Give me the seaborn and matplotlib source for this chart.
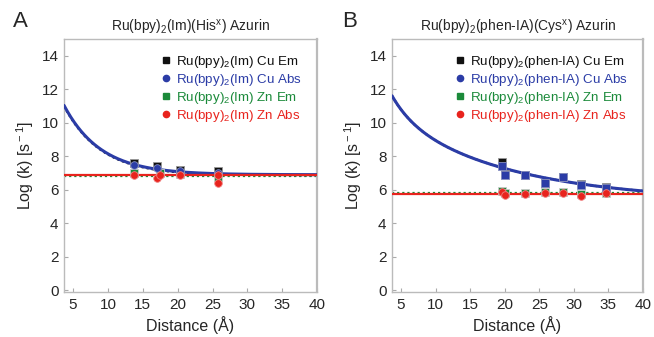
import numpy as np
import pandas as pd
import seaborn as sns
import matplotlib.pyplot as plt
from matplotlib.lines import Line2D

# ---- panel A : Ru(bpy)2(Im)(His) azurin ----
a_cu_em_r = [13.7, 17.1, 20.4, 25.8]
a_cu_em_k = [7.6, 7.45, 7.2, 7.1]
a_cu_abs_r = [13.7, 17.1, 20.4, 25.8]
a_cu_abs_k = [7.5, 7.32, 7.1, 7.0]
a_zn_em_r = [13.7, 17.5, 20.4, 25.8]
a_zn_em_k = [7.02, 7.0, 6.92, 6.76]
a_zn_abs_r = [13.7, 17.1, 17.5, 20.4, 25.8, 25.8]
a_zn_abs_k = [6.86, 6.72, 6.9, 6.86, 6.9, 6.42]

# fit: log k = plateau + amp * exp(-decay * r)
a_fit_plateau, a_fit_amp, a_fit_decay = 6.9, 8.36, 0.19
a_em_plateau = 6.86
a_zn_abs_level = 6.9
a_zn_em_level = 6.82

# ---- panel B : Ru(bpy)2(phen-IA)(Cys) azurin ----
b_cu_em_r = [19.6, 20.0, 22.9, 25.8, 28.4, 31.0, 34.6]
b_cu_em_k = [7.65, 6.92, 6.88, 6.42, 6.78, 6.32, 6.14]
b_cu_abs_r = [19.6, 20.0, 22.9, 25.8, 28.4, 31.0, 34.6]
b_cu_abs_k = [7.45, 6.9, 6.86, 6.4, 6.76, 6.3, 6.12]
b_zn_em_r = [19.6, 20.0, 22.9, 25.8, 28.4, 31.0, 34.6]
b_zn_em_k = [5.9, 5.8, 5.82, 5.88, 5.84, 5.74, 5.82]
b_zn_abs_r = [19.6, 20.0, 22.9, 25.8, 28.4, 31.0, 34.6]
b_zn_abs_k = [5.86, 5.72, 5.76, 5.8, 5.78, 5.63, 5.78]

# fit: two decay terms
b_fit_plateau = 5.3
b_fit_amp = [5.04, 1.42]
b_fit_decay = [0.057, 0.33]
b_fit_r0 = 3.5
b_zn_abs_level = 5.75
b_zn_em_level = 5.82

xticks = [5, 10, 15, 20, 25, 30, 35, 40]
yticks = [0, 2, 4, 6, 8, 10, 12, 14]

BLACK = "#111111"
BLUE = "#2b3ca6"
GREEN = "#1b8a3a"
RED = "#e8231d"

sns.set_style("ticks")
plt.rcParams["font.family"] = ["Liberation Sans", "DejaVu Sans"]
plt.rcParams["mathtext.fontset"] = "custom"
plt.rcParams["mathtext.rm"] = "Liberation Sans"
plt.rcParams["mathtext.it"] = "Liberation Sans:italic"

fig = plt.figure(figsize=(6.54, 3.37), dpi=100)
axA = fig.add_axes([0.0979, 0.1335, 0.3869, 0.7507])
axB = fig.add_axes([0.5994, 0.1335, 0.3838, 0.7507])

r_grid = np.linspace(3.7, 40, 300)
a_fit = a_fit_plateau + a_fit_amp * np.exp(-a_fit_decay * r_grid)
a_fit_em = a_em_plateau + a_fit_amp * np.exp(-a_fit_decay * r_grid)
b_fit = b_fit_plateau + sum(A * np.exp(-d * (r_grid - b_fit_r0))
                            for A, d in zip(b_fit_amp, b_fit_decay))


def draw_panel(ax, fit_em, fit_abs, zn_em_lvl, zn_abs_lvl, pts, title, letter, name):
    # fitted curves
    sns.lineplot(x=r_grid, y=fit_em, ax=ax, color=BLACK, lw=1.6, ls=(0, (1, 1.3)), zorder=2)
    sns.lineplot(x=r_grid, y=fit_abs, ax=ax, color=BLUE, lw=2.2, zorder=3)
    sns.lineplot(x=r_grid, y=np.full_like(r_grid, zn_em_lvl), ax=ax,
                 color=GREEN, lw=1.6, ls=(0, (1, 1.3)), zorder=2)
    sns.lineplot(x=r_grid, y=np.full_like(r_grid, zn_abs_lvl), ax=ax,
                 color=RED, lw=1.6, zorder=3)

    for (rr, kk, col, mk, ec) in pts:
        sns.scatterplot(x=rr, y=kk, ax=ax, color=col, marker=mk, s=30,
                        edgecolor=ec, linewidth=0.6, zorder=5)

    ax.set_xlim(3.7, 40)
    ax.set_ylim(-0.1, 15)
    ax.set_xticks(xticks)
    ax.set_yticks(yticks)
    ax.tick_params(direction="in", length=3, width=0.8, color="#aaaaaa",
                   labelsize=11, pad=4)
    for sp in ax.spines.values():
        sp.set_visible(True)
        sp.set_color("#bbbbbb")
        sp.set_linewidth(1.0)
    ax.spines["right"].set_linewidth(1.6)
    ax.set_xlabel("Distance (Å)", fontsize=11.5, labelpad=3)
    ax.set_ylabel(r"Log (k) [s$^{\rm -1}$]", fontsize=11.5, labelpad=4)
    ax.set_title(title, fontsize=10, pad=5)
    ax.text(-0.2, 1.07, letter, transform=ax.transAxes, fontsize=16,
            va="center", ha="left")

    handles = [
        Line2D([], [], ls="", marker="s", color=BLACK, ms=4.5),
        Line2D([], [], ls="", marker="o", color=BLUE, ms=4.5),
        Line2D([], [], ls="", marker="s", color=GREEN, ms=4.5),
        Line2D([], [], ls="", marker="o", color=RED, ms=4.5),
    ]
    labels = [rf"Ru(bpy)$_2$({name}) Cu Em", rf"Ru(bpy)$_2$({name}) Cu Abs",
              rf"Ru(bpy)$_2$({name}) Zn Em", rf"Ru(bpy)$_2$({name}) Zn Abs"]
    ax.legend(handles, labels, loc="upper right", frameon=False, fontsize=9.6,
              labelcolor=[BLACK, BLUE, GREEN, RED], handlelength=0.8,
              handletextpad=0.4, labelspacing=0.15, borderaxespad=0.9,
              borderpad=0.2)


draw_panel(axA, a_fit_em, a_fit, a_zn_em_level, a_zn_abs_level,
           [(a_zn_em_r, a_zn_em_k, GREEN, "s", "#cccccc"),
            (a_cu_em_r, a_cu_em_k, BLACK, "s", "#999999"),
            (a_cu_abs_r, a_cu_abs_k, BLUE, "o", "#8890c0"),
            (a_zn_abs_r, a_zn_abs_k, RED, "o", "#f08080")],
           r"Ru(bpy)$_2$(Im)(His$^{\rm x}$) Azurin", "A", "Im")

draw_panel(axB, b_fit, b_fit, b_zn_em_level, b_zn_abs_level,
           [(b_zn_em_r, b_zn_em_k, GREEN, "s", "#cccccc"),
            (b_cu_em_r, b_cu_em_k, BLACK, "s", "#999999"),
            (b_cu_abs_r, b_cu_abs_k, BLUE, "s", "#8890c0"),
            (b_zn_abs_r, b_zn_abs_k, RED, "o", "#f08080")],
           r"Ru(bpy)$_2$(phen-IA)(Cys$^{\rm x}$) Azurin", "B", "phen-IA")

fig.savefig("out.png", dpi=100)
